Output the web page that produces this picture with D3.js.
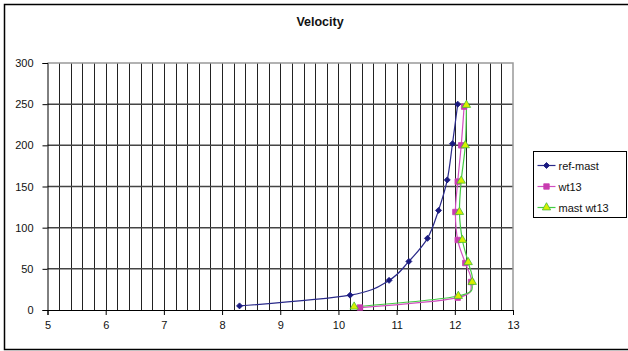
<!DOCTYPE html>
<html>
<head>
<meta charset="utf-8">
<script src="https://cdn.jsdelivr.net/npm/d3@7"></script>
<style>
  html, body { margin: 0; padding: 0; background: #fff; }
  svg { display: block; }
  text { font-family: Arial, "Liberation Sans", sans-serif; fill: #111; }
</style>
</head>
<body>
<svg id="chart" width="628" height="351"></svg>
<script>
// Velocity profiles: speed (x) against height (y)
const seriesNames = ["ref-mast", "wt13", "mast wt13"];

const refMastSpeed  = [8.30, 10.20, 10.87, 11.21, 11.53, 11.72, 11.87, 11.96, 12.05];
const refMastHeight = [5, 18, 36, 59, 87, 121, 158, 202, 250];

const wt13Speed  = [10.37, 12.05, 12.28, 12.18, 12.05, 12.01, 12.05, 12.11, 12.16];
const wt13Height = [3, 15, 34, 57, 85, 119, 156, 200, 247];

const mastWt13Speed  = [10.27, 12.06, 12.30, 12.23, 12.13, 12.08, 12.11, 12.18, 12.20];
const mastWt13Height = [4, 17, 34, 58, 85, 119, 157, 200, 249];

const xTicks = [5, 6, 7, 8, 9, 10, 11, 12, 13];
const yTicks = [0, 50, 100, 150, 200, 250, 300];

const seriesList = [
  { name: seriesNames[0], xs: refMastSpeed,  ys: refMastHeight,  line: "#2a2a8a", fill: "#1a1a80", stroke: "#1a1a80", shape: d3.symbolSquare,   size: 18, rotate: 45 },
  { name: seriesNames[1], xs: wt13Speed,     ys: wt13Height,     line: "#d050c0", fill: "#c83cb0", stroke: "#c83cb0", shape: d3.symbolSquare,   size: 30, rotate: 0 },
  { name: seriesNames[2], xs: mastWt13Speed, ys: mastWt13Height, line: "#44cc44", fill: "#d8f000", stroke: "#44bb33", shape: d3.symbolTriangle, size: 30, rotate: 0 }
];

const svg = d3.select("#chart");
const W = 628, H = 351;

svg.append("rect").attr("width", W).attr("height", H).attr("fill", "#fff");
// outer chart frame (right side runs past the edge)
svg.append("rect")
  .attr("x", 4.5).attr("y", 4.5).attr("width", 640).attr("height", 345)
  .attr("fill", "none").attr("stroke", "#000").attr("stroke-width", 1.5);

const plot = { left: 47.5, right: 513, top: 63, bottom: 310 };
const x = d3.scaleLinear().domain([5, 13]).range([plot.left, plot.right]);
const y = d3.scaleLinear().domain([0, 300]).range([plot.bottom, plot.top]);

// title
svg.append("text")
  .attr("x", 320).attr("y", 26)
  .attr("text-anchor", "middle")
  .attr("font-size", 12.5).attr("font-weight", "bold")
  .text("Velocity");

// vertical gridlines every 0.2
const vGrid = d3.range(52, 130, 2).map(v => v / 10);
svg.append("g").selectAll("line").data(vGrid).join("line")
  .attr("x1", d => Math.round(x(d)) + 0.5).attr("x2", d => Math.round(x(d)) + 0.5)
  .attr("y1", plot.top).attr("y2", plot.bottom)
  .attr("stroke", "#222").attr("stroke-width", 1);

// horizontal gridlines at y ticks
svg.append("g").selectAll("line").data(yTicks.filter(t => t > 0 && t < 300)).join("line")
  .attr("x1", plot.left).attr("x2", plot.right)
  .attr("y1", d => y(d)).attr("y2", d => y(d))
  .attr("stroke", "#444").attr("stroke-width", 1.5);

// plot area border (top and right)
svg.append("path")
  .attr("d", `M${plot.left},${y(300)}H${plot.right}V${plot.bottom}`)
  .attr("fill", "none").attr("stroke", "#999").attr("stroke-width", 1.5);

// axes
const xAxis = d3.axisBottom(x).tickValues(xTicks).tickSize(5).tickPadding(6).tickFormat(d3.format("d"));
const yAxis = d3.axisLeft(y).tickValues(yTicks).tickSize(5).tickPadding(9).tickFormat(d3.format("d"));

const gx = svg.append("g").attr("transform", `translate(0,${plot.bottom})`).call(xAxis);
const gy = svg.append("g").attr("transform", `translate(${plot.left},0)`).call(yAxis);
[gx, gy].forEach(g => {
  g.select(".domain").attr("stroke", "#000");
  g.selectAll(".tick line").attr("stroke", "#000");
  g.selectAll(".tick text").attr("font-size", 11).attr("font-family", "Arial, 'Liberation Sans', sans-serif").attr("fill", "#111");
});

// series lines and markers
const line = d3.line().curve(d3.curveCardinal.tension(0)).x(d => x(d[0])).y(d => y(d[1]));

seriesList.forEach(s => {
  const pts = s.xs.map((v, i) => [v, s.ys[i]]);
  svg.append("path").datum(pts)
    .attr("d", line).attr("fill", "none")
    .attr("stroke", s.line).attr("stroke-width", 1.2);
});
seriesList.forEach(s => {
  const pts = s.xs.map((v, i) => [v, s.ys[i]]);
  svg.append("g").selectAll("path").data(pts).join("path")
    .attr("transform", d => `translate(${x(d[0])},${y(d[1])}) rotate(${s.rotate})`)
    .attr("d", d3.symbol().type(s.shape).size(s.size))
    .attr("fill", s.fill).attr("stroke", s.stroke).attr("stroke-width", 0.8);
});

// legend
const lg = svg.append("g").attr("transform", "translate(533.5,151.5)");
lg.append("rect").attr("width", 93).attr("height", 66)
  .attr("fill", "#fff").attr("stroke", "#000").attr("stroke-width", 1);
seriesList.forEach((s, i) => {
  const cy = 14 + i * 21;
  lg.append("line").attr("x1", 4).attr("x2", 22).attr("y1", cy).attr("y2", cy)
    .attr("stroke", s.line).attr("stroke-width", 1.2);
  lg.append("path").attr("transform", `translate(13,${cy}) rotate(${s.rotate})`)
    .attr("d", d3.symbol().type(s.shape).size(s.size))
    .attr("fill", s.fill).attr("stroke", s.stroke).attr("stroke-width", 0.8);
  lg.append("text").attr("x", 25).attr("y", cy + 4)
    .attr("font-size", 11).text(s.name);
});
</script>
</body>
</html>
